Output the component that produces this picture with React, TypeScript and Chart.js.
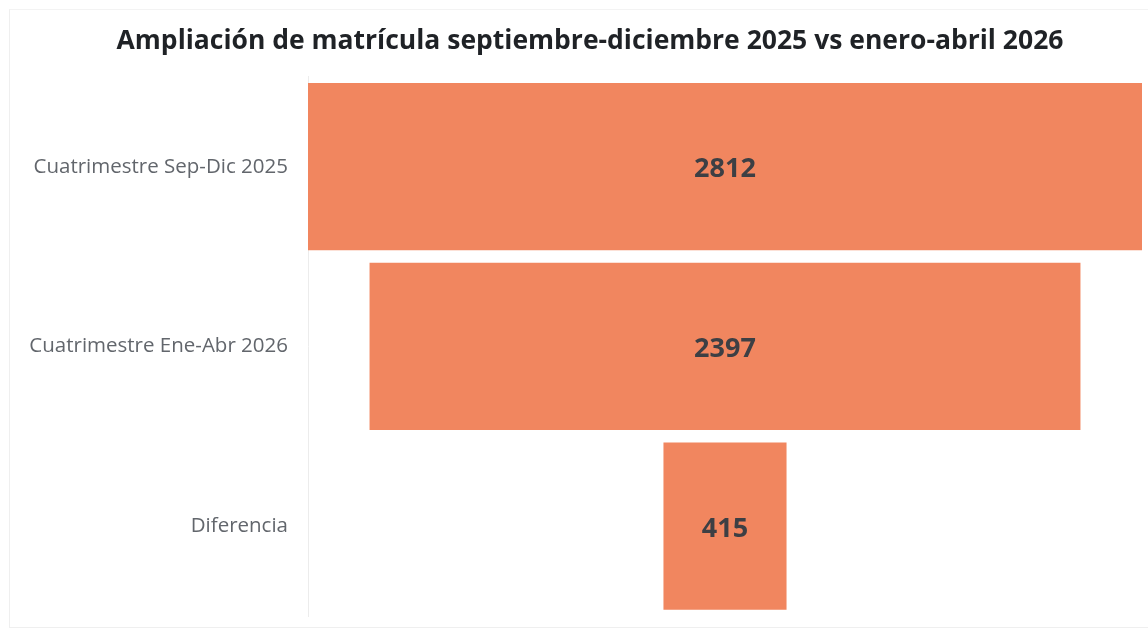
import React, { useEffect, useRef } from "react";
import { Chart, registerables } from "chart.js";

Chart.register(...registerables);

const TITLE = "Ampliación de matrícula septiembre-diciembre 2025 vs enero-abril 2026";
const categories = ["Cuatrimestre Sep-Dic 2025", "Cuatrimestre Ene-Abr 2026", "Diferencia"];
const values = [2812, 2397, 415];
const barColor = "#F1865F";

const valueLabels = {
  id: "valueLabels",
  afterDatasetsDraw(chart: any) {
    const ctx = chart.ctx;
    const meta = chart.getDatasetMeta(0);
    ctx.save();
    ctx.font = "bold 27px 'Open Sans'";
    ctx.fillStyle = "#3d3f44";
    ctx.textAlign = "center";
    ctx.textBaseline = "middle";
    meta.data.forEach((el: any, i: number) => {
      const cx = (el.x + el.base) / 2;
      ctx.fillText(String(values[i]), cx, el.y + 3);
    });
    ctx.restore();
  },
};

const titlePlugin = {
  id: "offsetTitle",
  afterDraw(chart: any) {
    const ctx = chart.ctx;
    ctx.save();
    ctx.font = "bold 26.5px 'Open Sans'";
    ctx.fillStyle = "#1f2226";
    ctx.textAlign = "center";
    ctx.textBaseline = "middle";
    ctx.fillText(TITLE, 590, 41);
    ctx.restore();
  },
};

export default function App() {
  const ref = useRef<HTMLCanvasElement>(null);
  useEffect(() => {
    if (!ref.current) return;
    const half = Math.max(...values) / 2;
    const chart = new Chart(ref.current, {
      type: "bar",
      data: {
        labels: categories,
        datasets: [
          {
            data: values.map((v) => [-v / 2, v / 2]) as any,
            backgroundColor: barColor,
            borderWidth: 0,
            categoryPercentage: 0.93,
            barPercentage: 1,
          },
        ],
      },
      options: {
        indexAxis: "y",
        animation: false,
        responsive: false,
        maintainAspectRatio: false,
        layout: { padding: { left: 10, right: 6, top: 76.8, bottom: 14 } },
        plugins: {
          legend: { display: false },
          tooltip: { enabled: false },
          title: { display: false },
        },
        scales: {
          x: { display: false, min: -half, max: half },
          y: {
            grid: { display: false },
            border: { display: true, color: "#ececec" },
            ticks: {
              color: "#62666c",
              padding: 12,
              font: { family: "'Open Sans'", size: 20.5 },
            },
            afterFit(scale: any) {
              scale.width = 298;
              scale.paddingTop = 0;
              scale.paddingBottom = 0;
            },
          },
        },
      },
      plugins: [valueLabels, titlePlugin],
    });
    return () => chart.destroy();
  }, []);
  return (
    <div style={{ position: "fixed", left: 0, top: 0, width: 1148, height: 630, background: "#fff" }}>
      <div
        style={{
          position: "absolute",
          left: 9,
          top: 9,
          width: 1160,
          height: 617,
          borderLeft: "1px solid #efefef",
          borderTop: "1px solid #f3f3f3",
          borderBottom: "1px solid #efefef",
        }}
      />
      <canvas ref={ref} width={1148} height={630} style={{ position: "absolute", left: 0, top: 0 }} />
    </div>
  );
}
